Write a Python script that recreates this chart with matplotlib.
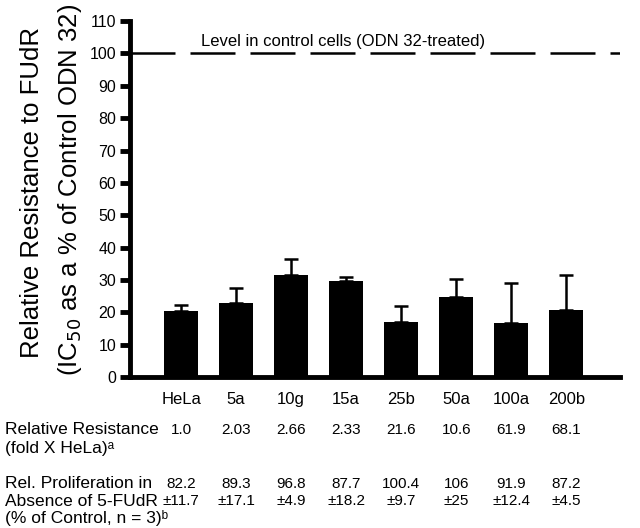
import matplotlib
matplotlib.use("Agg")
import matplotlib.pyplot as plt
import matplotlib.transforms as mtransforms
import numpy as np

plt.rcParams["font.family"] = ["Liberation Sans", "DejaVu Sans"]

# data
clones = ["HeLa", "5a", "10g", "15a", "25b", "50a", "100a", "200b"]
ic50_pct = [20.3, 22.8, 31.5, 29.7, 17.1, 24.6, 16.8, 20.7]
ic50_err = [2.0, 4.7, 5.0, 1.3, 4.7, 5.8, 12.4, 10.8]
rel_resist = ["1.0", "2.03", "2.66", "2.33", "21.6", "10.6", "61.9", "68.1"]
prolif = ["82.2", "89.3", "96.8", "87.7", "100.4", "106", "91.9", "87.2"]
prolif_sd = ["±11.7", "±17.1", "±4.9", "±18.2", "±9.7", "±25", "±12.4", "±4.5"]
control_level = 100

fig = plt.figure(figsize=(6.4, 5.28), dpi=100)
ax = fig.add_axes([0.203, 0.286, 0.766, 0.674])

x = np.arange(len(clones))
ax.bar(x, ic50_pct, width=0.62, color="black")
ax.errorbar(x, ic50_pct, yerr=[np.zeros(len(x)), ic50_err], fmt="none",
            ecolor="black", elinewidth=1.8, capsize=5, capthick=1.8)

ax.axhline(control_level, color="black", lw=1.8, dashes=(18, 6))
ax.text(2.95, 101.3, "Level in control cells (ODN 32-treated)", ha="center",
        va="bottom", fontsize=12,
        bbox=dict(facecolor="white", edgecolor="none", pad=1))

ax.set_xlim(-0.93, 7.98)
ax.set_ylim(0, 110)
ax.set_yticks(np.arange(0, 111, 10))
ax.set_xticks(x)
ax.set_xticklabels(clones, fontsize=12)
ax.tick_params(axis="y", direction="out", length=7, width=3.5, labelsize=11.5, pad=3)
ax.tick_params(axis="x", length=0, pad=11)
for s in ["top", "right"]:
    ax.spines[s].set_visible(False)
for s in ["left", "bottom"]:
    ax.spines[s].set_linewidth(3.5)

fig.text(0.05, 1 - 192 / 528, "Relative Resistance to FUdR", rotation=90,
         ha="center", va="center", fontsize=18.5)
fig.text(0.11, 1 - 190 / 528, "(IC$_{50}$ as a % of Control ODN 32)", rotation=90,
         ha="center", va="center", fontsize=18.5)

# table underneath
trans = mtransforms.blended_transform_factory(ax.transData, fig.transFigure)
row_y = [1 - 430 / 528, 1 - 484 / 528, 1 - 501 / 528]
for i in range(len(clones)):
    ax.text(x[i], row_y[0], rel_resist[i], transform=trans, ha="center",
            va="center", fontsize=11)
    ax.text(x[i], row_y[1], prolif[i], transform=trans, ha="center",
            va="center", fontsize=11)
    ax.text(x[i], row_y[2], prolif_sd[i], transform=trans, ha="center",
            va="center", fontsize=11)

lx = 5 / 640
fig.text(lx, 1 - 430 / 528, "Relative Resistance", va="center", fontsize=12.5)
fig.text(lx, 1 - 448 / 528, "(fold X HeLa)ᵃ", va="center", fontsize=12.5)
fig.text(lx, 1 - 484 / 528, "Rel. Proliferation in", va="center", fontsize=12.5)
fig.text(lx, 1 - 501 / 528, "Absence of 5-FUdR", va="center", fontsize=12.5)
fig.text(lx, 1 - 518 / 528, "(% of Control, n = 3)ᵇ", va="center", fontsize=12.5)

fig.savefig("out.png", dpi=100)
